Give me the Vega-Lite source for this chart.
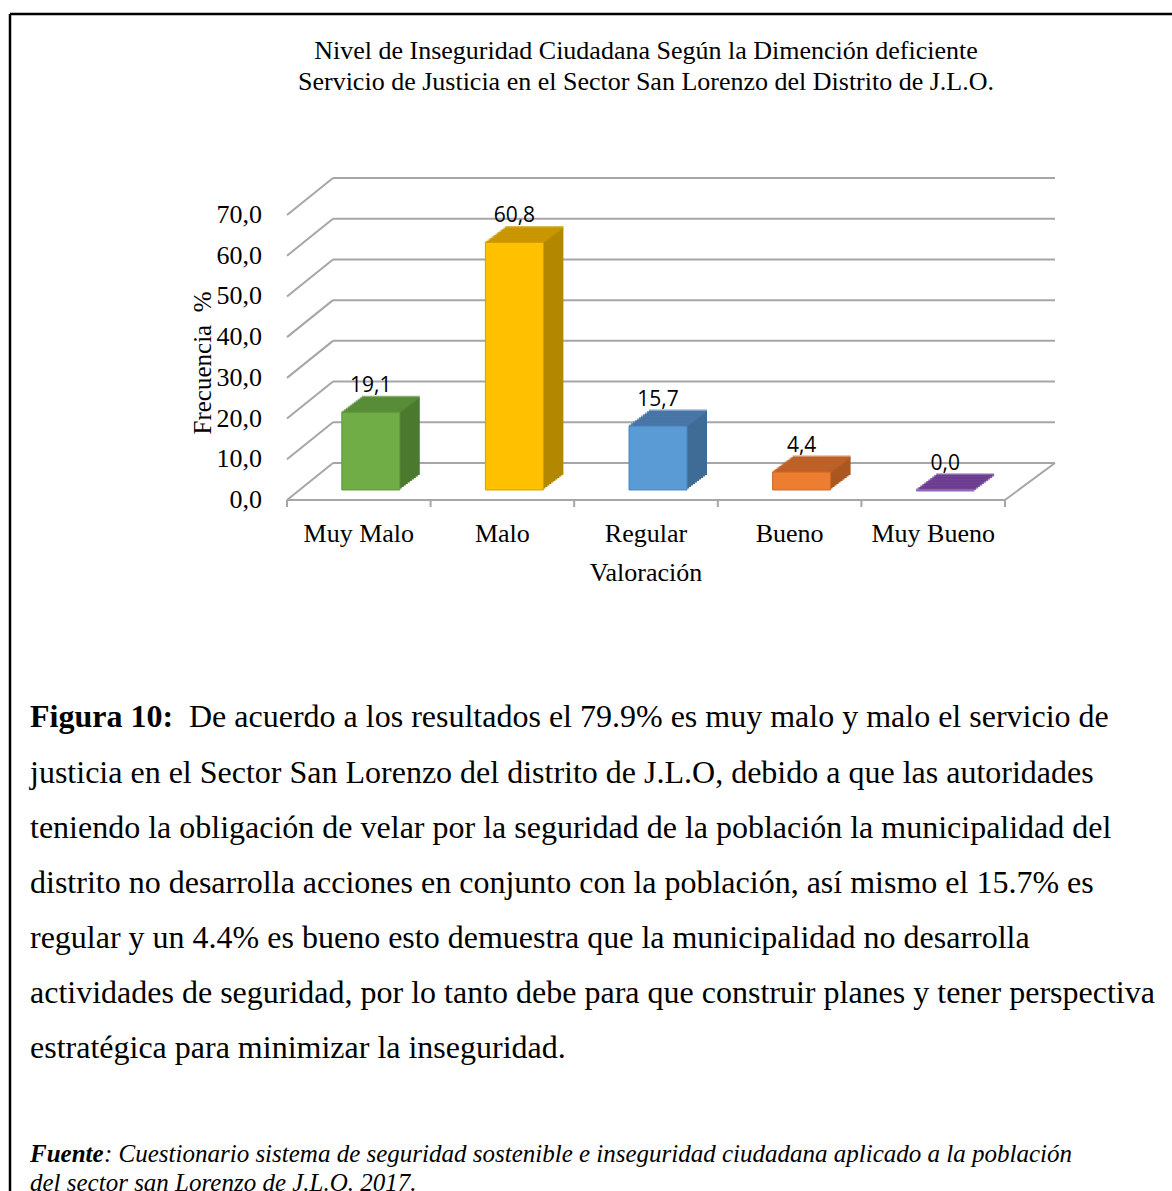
{
  "$schema": "https://vega.github.io/schema/vega-lite/v6.json",
  "width": 1162,
  "height": 1177,
  "autosize": "none",
  "padding": {"left": 10, "top": 14, "right": 0, "bottom": 0},
  "background": "white",
  "config": {
    "view": {"stroke": null},
    "locale": {"number": {"decimal": ",", "thousands": ".", "grouping": [3], "currency": ["", " €"]}}
  },
  "datasets": {
    "bars": [
      {"cat": "Muy Malo", "v": 19.1},
      {"cat": "Malo", "v": 60.8},
      {"cat": "Regular", "v": 15.7},
      {"cat": "Bueno", "v": 4.4},
      {"cat": "Muy Bueno", "v": 0}
    ],
    "ticks": [{"t": 0}, {"t": 10}, {"t": 20}, {"t": 30}, {"t": 40}, {"t": 50}, {"t": 60}, {"t": 70}],
    "one": [{"k": 1}],
    "lines": [
      {"line": 1, "text": "De acuerdo a los resultados el 79.9% es muy malo y malo el servicio de"},
      {"line": 2, "text": "justicia en el Sector San Lorenzo del distrito de J.L.O, debido  a que las autoridades"},
      {"line": 3, "text": "teniendo la obligación de velar por la seguridad de la población la municipalidad del"},
      {"line": 4, "text": "distrito  no desarrolla acciones  en conjunto con la población, así mismo el 15.7% es"},
      {"line": 5, "text": "regular y un 4.4% es bueno esto demuestra que la municipalidad no desarrolla"},
      {"line": 6, "text": "actividades de seguridad, por lo tanto debe  para que construir planes y tener perspectiva"},
      {"line": 7, "text": "estratégica para minimizar la inseguridad."}
    ]
  },
  "layer": [
    {
      "layer": [
        {
          "data": {"name": "ticks"},
          "mark": {"type": "rule", "color": "#a6a6a6", "strokeWidth": 2, "xOffset": -25.8, "x2Offset": 121.8, "yOffset": -37},
          "encoding": {
            "x": {"datum": "Muy Malo", "type": "nominal", "scale": {"type": "band", "domain": ["Muy Malo", "Malo", "Regular", "Bueno", "Muy Bueno"], "range": [277, 995], "paddingInner": 0, "paddingOuter": 0}, "axis": null},
            "x2": {"datum": "Muy Bueno"},
            "y": {"field": "t", "type": "quantitative", "scale": {"domain": [-169.72, 119.368], "nice": false, "zero": false}, "axis": null}
          }
        },
        {
          "data": {"name": "ticks"},
          "mark": {"type": "rule", "color": "#a6a6a6", "strokeWidth": 2, "xOffset": -71.8, "x2Offset": -25.8, "y2Offset": -37},
          "encoding": {
            "x": {"datum": "Muy Malo", "type": "nominal", "axis": null},
            "x2": {"datum": "Muy Malo"},
            "y": {"field": "t", "type": "quantitative", "axis": null},
            "y2": {"field": "t"}
          }
        },
        {
          "data": {"name": "one"},
          "mark": {"type": "rule", "color": "#a6a6a6", "strokeWidth": 2, "xOffset": 71.8, "x2Offset": 121.8, "y2Offset": -37},
          "encoding": {
            "x": {"datum": "Muy Bueno", "type": "nominal", "axis": null},
            "x2": {"datum": "Muy Bueno"},
            "y": {"datum": 0, "type": "quantitative", "axis": null},
            "y2": {"datum": 0}
          }
        },
        {
          "data": {"name": "one"},
          "mark": {"type": "rule", "color": "#a6a6a6", "strokeWidth": 2, "xOffset": -71.8, "x2Offset": 71.8},
          "encoding": {
            "x": {"datum": "Muy Malo", "type": "nominal", "axis": null},
            "x2": {"datum": "Muy Bueno"},
            "y": {"datum": 0, "type": "quantitative", "axis": null}
          }
        },
        {
          "data": {"name": "bars"},
          "mark": {"type": "rule", "color": "#a6a6a6", "strokeWidth": 2, "xOffset": -71.8, "y2Offset": 7},
          "encoding": {
            "x": {"field": "cat", "type": "nominal", "axis": null},
            "y": {"datum": 0, "type": "quantitative", "axis": null},
            "y2": {"datum": 0}
          }
        },
        {
          "data": {"name": "one"},
          "mark": {"type": "rule", "color": "#a6a6a6", "strokeWidth": 2, "xOffset": 71.8, "y2Offset": 7},
          "encoding": {
            "x": {"datum": "Muy Bueno", "type": "nominal", "axis": null},
            "y": {"datum": 0, "type": "quantitative", "axis": null},
            "y2": {"datum": 0}
          }
        },
        {
          "data": {"name": "ticks"},
          "mark": {"type": "text", "font": "Liberation Serif", "fontSize": 26, "color": "#000000", "align": "right", "baseline": "middle", "xOffset": -96.8},
          "encoding": {
            "x": {"datum": "Muy Malo", "type": "nominal", "axis": null},
            "y": {"field": "t", "type": "quantitative", "axis": null},
            "text": {"field": "t", "type": "quantitative", "format": ".1f"}
          }
        },
        {
          "data": {"name": "one"},
          "mark": {"type": "text", "font": "Liberation Serif", "fontSize": 25, "color": "#000000", "align": "center", "baseline": "alphabetic", "angle": 270, "xOffset": -147.8},
          "encoding": {
            "x": {"datum": "Muy Malo", "type": "nominal", "axis": null},
            "y": {"datum": 33.65, "type": "quantitative", "axis": null},
            "text": {"value": "Frecuencia\u00a0\u00a0%"}
          }
        },
        {
          "data": {"name": "bars"},
          "mark": {"type": "text", "font": "Liberation Serif", "fontSize": 26, "color": "#000000", "align": "center", "baseline": "middle", "yOffset": 34},
          "encoding": {
            "x": {"field": "cat", "type": "nominal", "axis": null},
            "y": {"datum": 0, "type": "quantitative", "axis": null},
            "text": {"field": "cat", "type": "nominal"}
          }
        },
        {
          "data": {"name": "bars"},
          "encoding": {
            "x": {"field": "cat", "type": "nominal", "axis": null},
            "y": {"field": "v", "type": "quantitative", "axis": null},
            "y2": {"datum": 0},
            "color": {"field": "cat", "type": "nominal", "scale": {"domain": ["Muy Malo", "Malo", "Regular", "Bueno", "Muy Bueno"], "range": ["#4b7a2e", "#b48700", "#3e6c97", "#aa5720", "#4b1f6e"]}, "legend": null}
          },
          "layer": [
            {"mark": {"type": "bar", "width": 58, "xOffset": 14, "yOffset": -11.5, "y2Offset": -11.5}},
            {"mark": {"type": "bar", "width": 58, "xOffset": 16, "yOffset": -13, "y2Offset": -13}},
            {"mark": {"type": "bar", "width": 58, "xOffset": 18, "yOffset": -14.5, "y2Offset": -14.5}},
            {"mark": {"type": "bar", "width": 58, "xOffset": 20, "yOffset": -16, "y2Offset": -16}},
            {"mark": {"type": "bar", "width": 58, "xOffset": 22, "yOffset": -17.5, "y2Offset": -17.5}},
            {"mark": {"type": "bar", "width": 58, "xOffset": 24, "yOffset": -19, "y2Offset": -19}},
            {"mark": {"type": "bar", "width": 58, "xOffset": 26, "yOffset": -20.5, "y2Offset": -20.5}},
            {"mark": {"type": "bar", "width": 58, "xOffset": 28, "yOffset": -22, "y2Offset": -22}},
            {"mark": {"type": "bar", "width": 58, "xOffset": 30, "yOffset": -23.5, "y2Offset": -23.5}},
            {"mark": {"type": "bar", "width": 58, "xOffset": 32, "yOffset": -25, "y2Offset": -25}}
          ]
        },
        {
          "data": {"name": "bars"},
          "encoding": {
            "x": {"field": "cat", "type": "nominal", "axis": null},
            "y": {"field": "v", "type": "quantitative", "axis": null},
            "color": {"field": "cat", "type": "nominal", "scale": {"domain": ["Muy Malo", "Malo", "Regular", "Bueno", "Muy Bueno"], "range": ["#5b8e39", "#cc9900", "#4878a8", "#c0622a", "#5c2a85"]}, "legend": null}
          },
          "layer": [
            {"mark": {"type": "tick", "size": 58, "thickness": 3, "xOffset": 12, "yOffset": -10}},
            {"mark": {"type": "tick", "size": 58, "thickness": 3, "xOffset": 14, "yOffset": -11.5}},
            {"mark": {"type": "tick", "size": 58, "thickness": 3, "xOffset": 16, "yOffset": -13}},
            {"mark": {"type": "tick", "size": 58, "thickness": 3, "xOffset": 18, "yOffset": -14.5}},
            {"mark": {"type": "tick", "size": 58, "thickness": 3, "xOffset": 20, "yOffset": -16}},
            {"mark": {"type": "tick", "size": 58, "thickness": 3, "xOffset": 22, "yOffset": -17.5}},
            {"mark": {"type": "tick", "size": 58, "thickness": 3, "xOffset": 24, "yOffset": -19}},
            {"mark": {"type": "tick", "size": 58, "thickness": 3, "xOffset": 26, "yOffset": -20.5}},
            {"mark": {"type": "tick", "size": 58, "thickness": 3, "xOffset": 28, "yOffset": -22}},
            {"mark": {"type": "tick", "size": 58, "thickness": 3, "xOffset": 30, "yOffset": -23.5}},
            {"mark": {"type": "tick", "size": 58, "thickness": 3, "xOffset": 32, "yOffset": -25}}
          ]
        },
        {
          "data": {"name": "bars"},
          "mark": {"type": "bar", "width": 58, "xOffset": 12, "yOffset": -10, "y2Offset": -10, "strokeWidth": 1},
          "encoding": {
            "x": {"field": "cat", "type": "nominal", "axis": null},
            "y": {"field": "v", "type": "quantitative", "axis": null},
            "y2": {"datum": 0},
            "color": {"field": "cat", "type": "nominal", "scale": {"domain": ["Muy Malo", "Malo", "Regular", "Bueno", "Muy Bueno"], "range": ["#70ad47", "#ffc000", "#5b9bd5", "#ed7d31", "#7030a0"]}, "legend": null},
            "stroke": {"field": "cat", "type": "nominal", "scale": {"domain": ["Muy Malo", "Malo", "Regular", "Bueno", "Muy Bueno"], "range": ["#5e9a3a", "#d4a000", "#4a86bf", "#cc6a28", "#9a6ac8"]}, "legend": null}
          }
        },
        {
          "data": {"name": "bars"},
          "mark": {"type": "text", "font": "Open Sans", "fontSize": 21, "color": "#000000", "baseline": "middle", "align": "center", "xOffset": 12, "yOffset": -36},
          "encoding": {
            "x": {"field": "cat", "type": "nominal", "axis": null},
            "y": {"field": "v", "type": "quantitative", "axis": null},
            "text": {"field": "v", "type": "quantitative", "format": ".1f"}
          }
        },
        {
          "data": {"name": "one"},
          "mark": {"type": "text", "font": "Liberation Serif", "fontSize": 26, "color": "#000000", "baseline": "middle", "align": "center"},
          "encoding": {
            "x": {"datum": "Regular", "type": "nominal", "axis": null},
            "y": {"datum": 110.28, "type": "quantitative", "axis": null},
            "text": {"value": "Nivel de Inseguridad Ciudadana Según la Dimención deficiente"}
          }
        },
        {
          "data": {"name": "one"},
          "mark": {"type": "text", "font": "Liberation Serif", "fontSize": 26, "color": "#000000", "baseline": "middle", "align": "center"},
          "encoding": {
            "x": {"datum": "Regular", "type": "nominal", "axis": null},
            "y": {"datum": 102.67, "type": "quantitative", "axis": null},
            "text": {"value": "Servicio de Justicia en el Sector San Lorenzo del Distrito de J.L.O."}
          }
        },
        {
          "data": {"name": "one"},
          "mark": {"type": "text", "font": "Liberation Serif", "fontSize": 26, "color": "#000000", "baseline": "middle", "align": "center"},
          "encoding": {
            "x": {"datum": "Regular", "type": "nominal", "axis": null},
            "y": {"datum": -17.81, "type": "quantitative", "axis": null},
            "text": {"value": "Valoración"}
          }
        }
      ],
      "resolve": {"scale": {"color": "independent", "stroke": "independent"}}
    },
    {
      "layer": [
        {
          "data": {"name": "one"},
          "mark": {"type": "rule", "color": "#000000", "strokeWidth": 2.5},
          "encoding": {
            "x": {"datum": 0, "type": "quantitative", "scale": {"domain": [0, 1], "nice": false, "zero": false}, "axis": null}
          }
        },
        {
          "data": {"name": "one"},
          "mark": {"type": "rule", "color": "#000000", "strokeWidth": 2.5},
          "encoding": {
            "y": {"datum": -11.75, "type": "quantitative", "axis": null}
          }
        },
        {
          "data": {"name": "lines"},
          "transform": [{"filter": "datum.line > 1"}],
          "mark": {"type": "text", "font": "Liberation Serif", "fontSize": 32, "color": "#000000", "align": "left", "baseline": "middle", "xOffset": 20},
          "encoding": {
            "x": {"datum": 0, "type": "quantitative", "axis": null},
            "y": {"field": "line", "type": "quantitative", "scale": {"domain": [-11.75, 9.584], "reverse": true, "nice": false, "zero": false}, "axis": null},
            "text": {"field": "text", "type": "nominal"}
          }
        },
        {
          "data": {"name": "lines"},
          "transform": [{"filter": "datum.line == 1"}],
          "mark": {"type": "text", "font": "Liberation Serif", "fontSize": 32, "fontWeight": "bold", "color": "#000000", "align": "left", "baseline": "middle", "xOffset": 20},
          "encoding": {
            "x": {"datum": 0, "type": "quantitative", "axis": null},
            "y": {"field": "line", "type": "quantitative", "axis": null},
            "text": {"value": "Figura 10:"}
          }
        },
        {
          "data": {"name": "lines"},
          "transform": [{"filter": "datum.line == 1"}],
          "mark": {"type": "text", "font": "Liberation Serif", "fontSize": 32, "color": "#000000", "align": "left", "baseline": "middle", "xOffset": 179},
          "encoding": {
            "x": {"datum": 0, "type": "quantitative", "axis": null},
            "y": {"field": "line", "type": "quantitative", "axis": null},
            "text": {"field": "text", "type": "nominal"}
          }
        },
        {
          "data": {"name": "one"},
          "mark": {"type": "text", "font": "Liberation Serif", "fontSize": 25, "fontStyle": "italic", "fontWeight": "bold", "color": "#000000", "align": "left", "baseline": "middle", "xOffset": 20},
          "encoding": {
            "x": {"datum": 0, "type": "quantitative", "axis": null},
            "y": {"datum": 8.922, "type": "quantitative", "axis": null},
            "text": {"value": "Fuente"}
          }
        },
        {
          "data": {"name": "one"},
          "mark": {"type": "text", "font": "Liberation Serif", "fontSize": 25, "fontStyle": "italic", "color": "#000000", "align": "left", "baseline": "middle", "xOffset": 94},
          "encoding": {
            "x": {"datum": 0, "type": "quantitative", "axis": null},
            "y": {"datum": 8.922, "type": "quantitative", "axis": null},
            "text": {"value": ": Cuestionario sistema de seguridad sostenible e inseguridad ciudadana aplicado a la población"}
          }
        },
        {
          "data": {"name": "one"},
          "mark": {"type": "text", "font": "Liberation Serif", "fontSize": 25, "fontStyle": "italic", "color": "#000000", "align": "left", "baseline": "middle", "xOffset": 20},
          "encoding": {
            "x": {"datum": 0, "type": "quantitative", "axis": null},
            "y": {"datum": 9.43, "type": "quantitative", "axis": null},
            "text": {"value": "del sector san Lorenzo de J.L.O. 2017."}
          }
        }
      ]
    }
  ],
  "resolve": {"scale": {"x": "independent", "y": "independent"}}
}
